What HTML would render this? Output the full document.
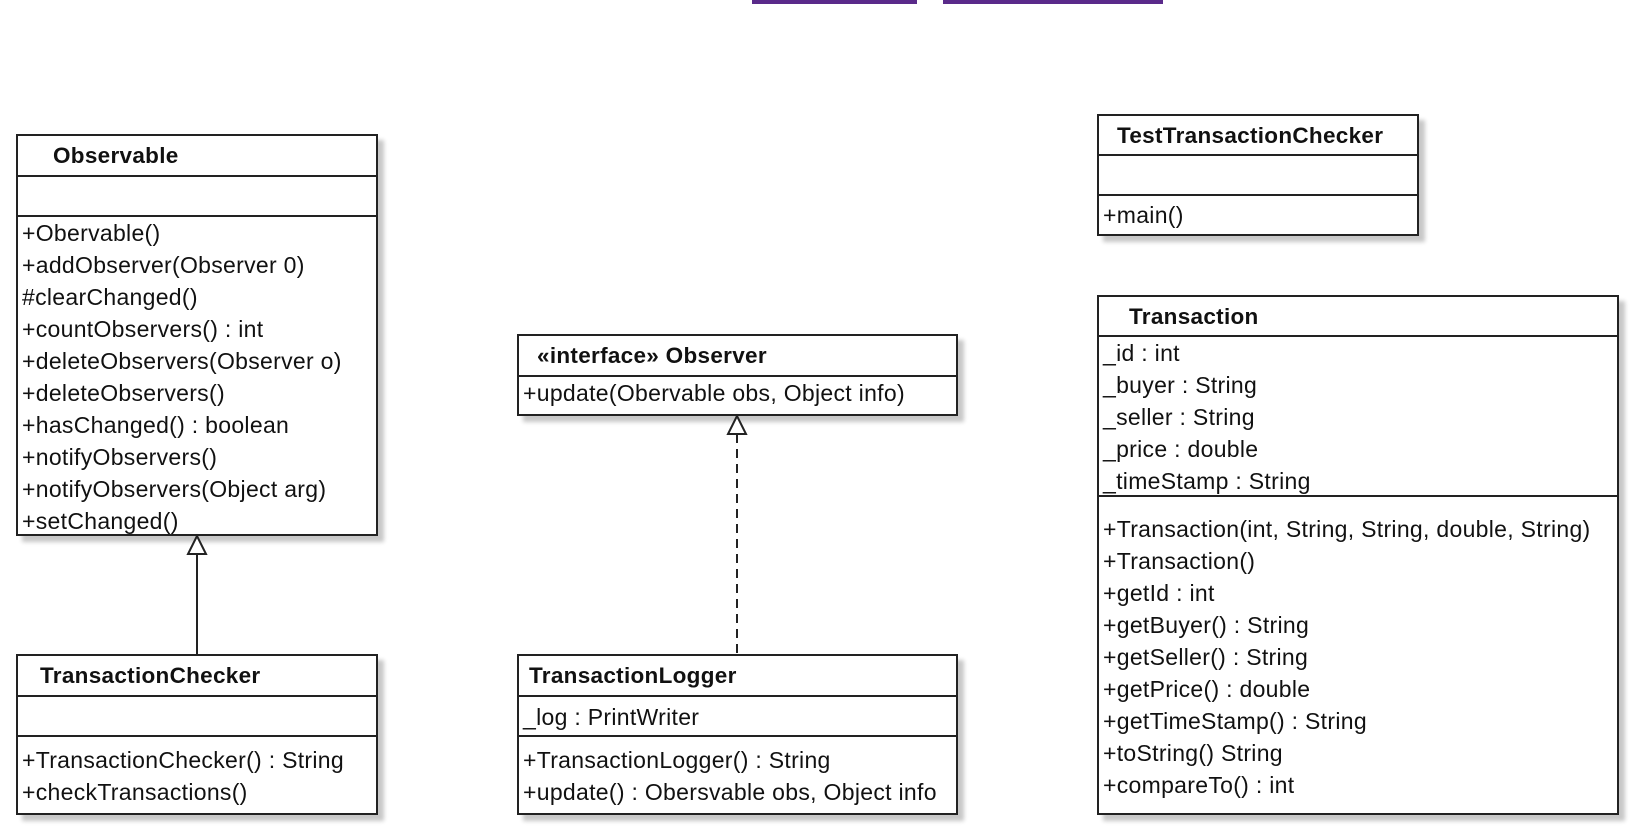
<!DOCTYPE html>
<html><head><meta charset="utf-8"><style>
html,body{margin:0;padding:0;background:#fff;}
body{width:1638px;height:836px;position:relative;overflow:hidden;font-family:"Liberation Sans",Arial,sans-serif;color:#111;}
.box{position:absolute;border:2px solid #222;background:#fff;box-shadow:6px 6px 4px #c8c8c8;box-sizing:border-box;}
.hl{position:absolute;left:0;right:0;height:0;border-top:2px solid #222;}
.t{position:absolute;font-size:23px;white-space:nowrap;line-height:24px;letter-spacing:0.3px;}
.b{font-weight:bold;font-size:22.5px;}
.bar{position:absolute;top:0;height:4px;background:#5a2a8a;}
</style></head><body>
<div class="bar" style="left:752px;width:165px"></div>
<div class="bar" style="left:943px;width:220px"></div>

<!-- Observable -->
<div class="box" style="left:16px;top:134px;width:362px;height:402px">
  <div class="hl" style="top:39px"></div>
  <div class="hl" style="top:79px"></div>
  <div class="t b" style="left:35px;top:8px">Observable</div>
  <div class="t" style="left:4px;top:85px">+Obervable()</div>
  <div class="t" style="left:4px;top:117px">+addObserver(Observer 0)</div>
  <div class="t" style="left:4px;top:149px">#clearChanged()</div>
  <div class="t" style="left:4px;top:181px">+countObservers() : int</div>
  <div class="t" style="left:4px;top:213px">+deleteObservers(Observer o)</div>
  <div class="t" style="left:4px;top:245px">+deleteObservers()</div>
  <div class="t" style="left:4px;top:277px">+hasChanged() : boolean</div>
  <div class="t" style="left:4px;top:309px">+notifyObservers()</div>
  <div class="t" style="left:4px;top:341px">+notifyObservers(Object arg)</div>
  <div class="t" style="left:4px;top:373px">+setChanged()</div>
</div>

<!-- TestTransactionChecker -->
<div class="box" style="left:1097px;top:114px;width:322px;height:122px">
  <div class="hl" style="top:38px"></div>
  <div class="hl" style="top:78px"></div>
  <div class="t b" style="left:18px;top:8px">TestTransactionChecker</div>
  <div class="t" style="left:4px;top:87px">+main()</div>
</div>

<!-- Transaction -->
<div class="box" style="left:1097px;top:295px;width:522px;height:520px">
  <div class="hl" style="top:38px"></div>
  <div class="hl" style="top:198px"></div>
  <div class="t b" style="left:30px;top:8px">Transaction</div>
  <div class="t" style="left:4px;top:44px">_id : int</div>
  <div class="t" style="left:4px;top:76px">_buyer : String</div>
  <div class="t" style="left:4px;top:108px">_seller : String</div>
  <div class="t" style="left:4px;top:140px">_price : double</div>
  <div class="t" style="left:4px;top:172px">_timeStamp : String</div>
  <div class="t" style="left:4px;top:220px">+Transaction(int, String, String, double, String)</div>
  <div class="t" style="left:4px;top:252px">+Transaction()</div>
  <div class="t" style="left:4px;top:284px">+getId : int</div>
  <div class="t" style="left:4px;top:316px">+getBuyer() : String</div>
  <div class="t" style="left:4px;top:348px">+getSeller() : String</div>
  <div class="t" style="left:4px;top:380px">+getPrice() : double</div>
  <div class="t" style="left:4px;top:412px">+getTimeStamp() : String</div>
  <div class="t" style="left:4px;top:444px">+toString() String</div>
  <div class="t" style="left:4px;top:476px">+compareTo() : int</div>
</div>

<!-- Observer interface -->
<div class="box" style="left:517px;top:334px;width:441px;height:82px">
  <div class="hl" style="top:39px"></div>
  <div class="t b" style="left:18px;top:8px">«interface» Observer</div>
  <div class="t" style="left:4px;top:45px">+update(Obervable obs, Object info)</div>
</div>

<!-- TransactionChecker -->
<div class="box" style="left:16px;top:654px;width:362px;height:161px">
  <div class="hl" style="top:39px"></div>
  <div class="hl" style="top:79px"></div>
  <div class="t b" style="left:22px;top:8px">TransactionChecker</div>
  <div class="t" style="left:4px;top:92px">+TransactionChecker() : String</div>
  <div class="t" style="left:4px;top:124px">+checkTransactions()</div>
</div>

<!-- TransactionLogger -->
<div class="box" style="left:517px;top:654px;width:441px;height:161px">
  <div class="hl" style="top:39px"></div>
  <div class="hl" style="top:79px"></div>
  <div class="t b" style="left:10px;top:8px">TransactionLogger</div>
  <div class="t" style="left:4px;top:49px">_log : PrintWriter</div>
  <div class="t" style="left:4px;top:92px">+TransactionLogger() : String</div>
  <div class="t" style="left:4px;top:124px">+update() : Obersvable obs, Object info</div>
</div>

<svg width="1638" height="836" style="position:absolute;left:0;top:0;pointer-events:none">
  <line x1="197" y1="555" x2="197" y2="654" stroke="#222" stroke-width="2"/>
  <polygon points="197,536 188,554 206,554" fill="#fff" stroke="#222" stroke-width="2"/>
  <line x1="737" y1="434" x2="737" y2="654" stroke="#222" stroke-width="2" stroke-dasharray="9,6"/>
  <polygon points="737,416 728,434 746,434" fill="#fff" stroke="#222" stroke-width="2"/>
</svg>
</body></html>
